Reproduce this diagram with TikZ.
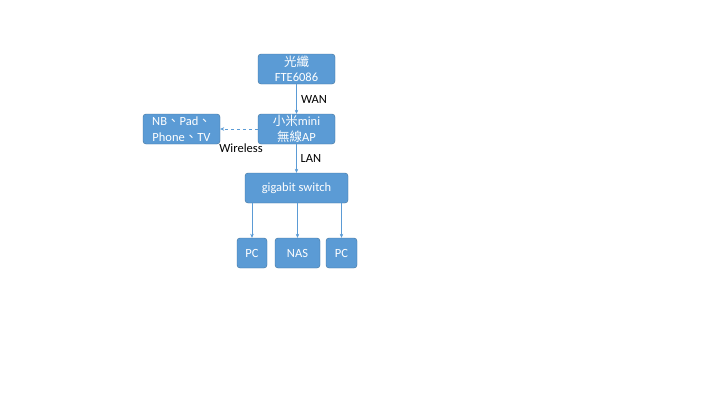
\documentclass[tikz,border=0pt]{standalone}
\usepackage{fontspec}
\setmainfont{Carlito}
\newfontfamily\cjk{Noto Sans CJK TC}
\usetikzlibrary{arrows.meta}
\definecolor{boxblue}{HTML}{5B9BD5}
\definecolor{boxedge}{HTML}{41719C}
\tikzset{
  dev/.style={draw=boxedge,fill=boxblue,rounded corners=3pt,text=white,
    minimum height=30pt,inner sep=1pt,align=center,font=\fontsize{12.5}{15.5}\selectfont},
  link/.style={draw=boxblue,-{Stealth[length=4pt,width=3.5pt]}},
  lbl/.style={font=\fontsize{12.5}{13}\selectfont}
}
\begin{document}
\begin{tikzpicture}[x=1pt,y=-1pt]
        \useasboundingbox (0,0) rectangle (720,405);
        \node[dev,minimum width=77pt] (ont) at (296.5,69) {{\cjk 光纖}\\FTE6086};
        \node[dev,minimum width=77pt] (ap) at (296.5,129) {{\cjk 小米}mini\\{\cjk 無線}AP};
        \node[dev,minimum width=77pt] (nb) at (181.5,129) {NB{\cjk 、}Pad{\cjk 、}\\Phone{\cjk 、}TV};
        \node[dev,minimum width=103pt] (sw) at (296.5,188) {gigabit switch};
        \node[dev,minimum width=30pt] (pc1) at (252,253) {PC};
        \node[dev,minimum width=45pt] (nas) at (297.5,253) {NAS};
        \node[dev,minimum width=31pt] (pc2) at (341.5,253) {PC};

        \draw[link] (ont) -- (ap);
        \draw[link,dashed] (ap) -- (nb);
        \draw[link] (ap) -- (sw);
        \draw[link] (sw.south -| pc1) -- (pc1);
        \draw[link] (sw.south -| nas) -- (nas);
        \draw[link] (sw.south -| pc2) -- (pc2);

        \node[lbl] (wan) at (314,99) {WAN};
        \node[lbl] (wl) at (241,148) {Wireless};
        \node[lbl] (lan) at (311,158) {LAN};
    \end{tikzpicture}
\end{document}
